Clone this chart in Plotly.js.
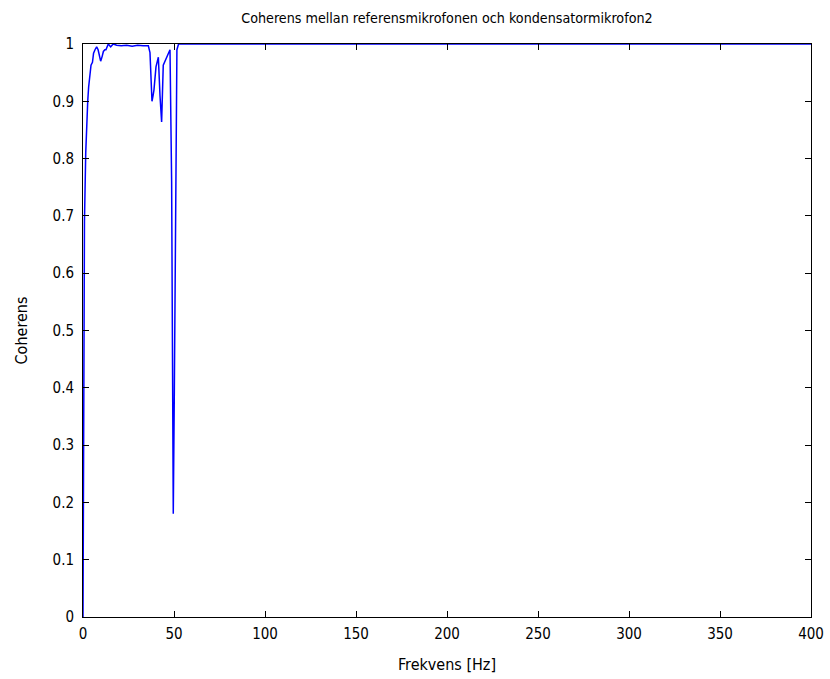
<!DOCTYPE html>
<html>
<head>
<meta charset="utf-8">
<script src="https://cdn.plot.ly/plotly-3.0.1.min.js"></script>
<style>
  html, body { margin: 0; padding: 0; background: #ffffff; }
  #chart { width: 830px; height: 679px; }
</style>
</head>
<body>
<div id="chart"></div>
<script>
// Coherence between the reference microphone and condenser microphone 2
const frekvens = [0, 0.4, 0.8, 1.5, 2.0, 2.6, 3.1, 3.6, 4.4, 5.2, 5.8, 6.6, 7.5, 8.3,
  9.0, 9.7, 10.5, 11.2, 12.0, 12.6, 13.9, 15.2, 16.6, 18.5, 21, 24, 27, 30, 33,
  35.9, 36.8, 37.9, 38.5, 39.0, 40.1, 41.4, 42.3, 43.2, 44.1, 45.6, 46.9, 47.8,
  48.7, 49.2, 49.6, 50.2, 50.9, 51.6, 52.5, 400];
const koherens = [0.0, 0.31, 0.69, 0.81, 0.87, 0.90, 0.925, 0.94, 0.963, 0.968, 0.984, 0.99, 0.995, 0.99,
  0.98, 0.97, 0.978, 0.987, 0.99, 0.99, 1.0, 0.995, 1.0, 0.998, 0.997, 0.998, 0.996, 0.998, 0.997,
  0.997, 0.985, 0.90, 0.91, 0.92, 0.96, 0.977, 0.91, 0.864, 0.963, 0.975, 0.984, 0.99,
  0.76, 0.37, 0.18, 0.40, 0.80, 0.99, 1.0, 1.0];

const xTicks = [0, 50, 100, 150, 200, 250, 300, 350, 400];
const yTicks = [0, 0.1, 0.2, 0.3, 0.4, 0.5, 0.6, 0.7, 0.8, 0.9, 1];
const yTickText = ['0', '0.1', '0.2', '0.3', '0.4', '0.5', '0.6', '0.7', '0.8', '0.9', '1'];

const fontFam = '"DejaVu Sans Condensed", "Liberation Sans Narrow", "Liberation Sans", sans-serif';

const axisCommon = {
  showline: true, linecolor: '#000000', linewidth: 1, mirror: 'ticks',
  ticks: 'inside', ticklen: 6, tickwidth: 1, tickcolor: '#000000',
  showgrid: false, zeroline: false,
  tickfont: { family: fontFam, size: 15, color: '#000000' }
};

Plotly.newPlot('chart', [{
  x: frekvens, y: koherens, type: 'scatter', mode: 'lines',
  line: { color: '#0000ff', width: 1.5 }, hoverinfo: 'skip'
}], {
  width: 830, height: 679,
  margin: { l: 83, r: 19, t: 44, b: 62 },
  paper_bgcolor: '#ffffff', plot_bgcolor: '#ffffff',
  showlegend: false,
  title: { text: 'Coherens mellan referensmikrofonen och kondensatormikrofon2',
    font: { family: fontFam, size: 14.2, color: '#000000' },
    x: 0.5385, xanchor: 'center', y: 0.973, yanchor: 'middle' },
  xaxis: Object.assign({}, axisCommon, {
    range: [0, 400], tickvals: xTicks, ticktext: xTicks.map(String),
    ticklabelstandoff: 3,
    title: { text: 'Frekvens [Hz]', font: { family: fontFam, size: 16, color: '#000000' }, standoff: 16 }
  }),
  yaxis: Object.assign({}, axisCommon, {
    range: [0, 1], tickvals: yTicks, ticktext: yTickText,
    ticklabelstandoff: 5,
    title: { text: 'Coherens', font: { family: fontFam, size: 16, color: '#000000' }, standoff: 20 }
  })
}, { displayModeBar: false, staticPlot: true });
</script>
</body>
</html>
